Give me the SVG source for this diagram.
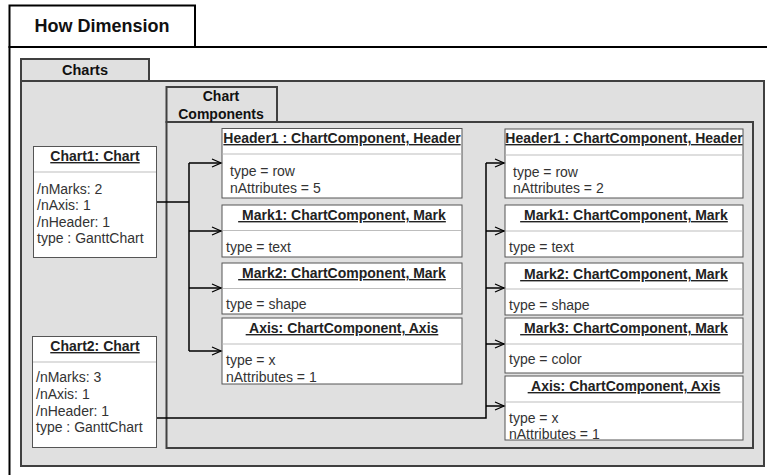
<svg xmlns="http://www.w3.org/2000/svg" width="767" height="475" viewBox="0 0 767 475">
<defs>
<style>
.frame{fill:#fff;stroke:#000;stroke-width:2}
.pkg{fill:#e0e0e0;stroke:#404040;stroke-width:2}
.node{fill:#fff;stroke:#555;stroke-width:1}
.div{stroke:#bdbdbd;stroke-width:1}
.ttl{font-family:"Liberation Sans",Arial,sans-serif;font-weight:bold;fill:#111}
.title{font-family:"Liberation Sans",Arial,sans-serif;font-weight:bold;font-size:14px;fill:#222;text-decoration:underline;text-anchor:middle}
.attr{font-family:"Liberation Sans",Arial,sans-serif;font-size:14px;fill:#333}
.conn{fill:none;stroke:#000;stroke-width:1.5}
</style>
<marker id="arr" markerUnits="userSpaceOnUse" markerWidth="12" markerHeight="12" refX="10" refY="5" orient="auto">
<path d="M1,1 L10,5 L1,9" fill="none" stroke="#000" stroke-width="1.3"/>
</marker>
</defs>

<g id="how-dimension">
<rect class="frame" x="9.5" y="47" width="800" height="450"/>
<rect class="frame" x="9.5" y="5.5" width="185.5" height="41.5"/>
<text class="ttl" x="102" y="32" font-size="18" text-anchor="middle">How Dimension</text>
</g>

<g id="charts">
<rect class="pkg" x="21" y="81" width="743" height="385"/>
<rect class="pkg" x="21" y="59" width="128" height="22"/>
<text class="ttl" x="85" y="75" font-size="14.5" text-anchor="middle">Charts</text>
</g>

<g id="chart-components">
<rect class="pkg" x="166.5" y="122" width="586.5" height="326"/>
<rect class="pkg" x="166.5" y="87" width="110.5" height="35"/>
<text class="ttl" x="221" y="101" font-size="14" text-anchor="middle">Chart</text>
<text class="ttl" x="221" y="119" font-size="14" text-anchor="middle">Components</text>
</g>

<g id="chart1">
<rect class="node" x="33.5" y="146.5" width="123" height="111"/>
<line class="div" x1="34" y1="172" x2="156" y2="172"/>
<text class="title" x="95" y="161">Chart1: Chart</text>
<text class="attr" x="37" y="194">/nMarks: 2</text>
<text class="attr" x="37" y="210">/nAxis: 1</text>
<text class="attr" x="37" y="227">/nHeader: 1</text>
<text class="attr" x="37" y="243">type : GanttChart</text>
</g>

<g id="chart2">
<rect class="node" x="32.5" y="336.5" width="124" height="111"/>
<line class="div" x1="33" y1="362" x2="156" y2="362"/>
<text class="title" x="95" y="351">Chart2: Chart</text>
<text class="attr" x="36" y="382">/nMarks: 3</text>
<text class="attr" x="36" y="399">/nAxis: 1</text>
<text class="attr" x="36" y="416">/nHeader: 1</text>
<text class="attr" x="36" y="432">type : GanttChart</text>
</g>

<g id="l-header1">
<rect class="node" x="222" y="128.5" width="240" height="69.5"/>
<line class="div" x1="222.5" y1="154" x2="461.5" y2="154"/>
<text class="title" x="342" y="143">Header1 : ChartComponent, Header</text>
<text class="attr" x="230" y="176">type = row</text>
<text class="attr" x="230" y="193">nAttributes = 5</text>
</g>

<g id="l-mark1">
<rect class="node" x="222" y="205" width="240" height="52"/>
<line class="div" x1="222.5" y1="230.5" x2="461.5" y2="230.5"/>
<text class="title" x="342" y="220" xml:space="preserve"> Mark1: ChartComponent, Mark</text>
<text class="attr" x="226" y="252">type = text</text>
</g>

<g id="l-mark2">
<rect class="node" x="222" y="263" width="240" height="51"/>
<line class="div" x1="222.5" y1="288.5" x2="461.5" y2="288.5"/>
<text class="title" x="342" y="278" xml:space="preserve"> Mark2: ChartComponent, Mark</text>
<text class="attr" x="226" y="309">type = shape</text>
</g>

<g id="l-axis">
<rect class="node" x="222" y="318" width="240" height="66"/>
<line class="div" x1="222.5" y1="344" x2="461.5" y2="344"/>
<text class="title" x="342" y="333" xml:space="preserve"> Axis: ChartComponent, Axis</text>
<text class="attr" x="226" y="365">type = x</text>
<text class="attr" x="226" y="382">nAttributes = 1</text>
</g>

<g id="r-header1">
<rect class="node" x="505" y="129" width="238" height="69"/>
<line class="div" x1="505.5" y1="155" x2="742.5" y2="155"/>
<text class="title" x="624" y="143">Header1 : ChartComponent, Header</text>
<text class="attr" x="513" y="177">type = row</text>
<text class="attr" x="513" y="193">nAttributes = 2</text>
</g>

<g id="r-mark1">
<rect class="node" x="505" y="205" width="238" height="52"/>
<line class="div" x1="505.5" y1="231" x2="742.5" y2="231"/>
<text class="title" x="624" y="220" xml:space="preserve"> Mark1: ChartComponent, Mark</text>
<text class="attr" x="509" y="252">type = text</text>
</g>

<g id="r-mark2">
<rect class="node" x="505" y="263" width="238" height="52"/>
<line class="div" x1="505.5" y1="289" x2="742.5" y2="289"/>
<text class="title" x="624" y="279" xml:space="preserve"> Mark2: ChartComponent, Mark</text>
<text class="attr" x="509" y="310">type = shape</text>
</g>

<g id="r-mark3">
<rect class="node" x="505" y="318" width="238" height="55"/>
<line class="div" x1="505.5" y1="344" x2="742.5" y2="344"/>
<text class="title" x="624" y="333" xml:space="preserve"> Mark3: ChartComponent, Mark</text>
<text class="attr" x="509" y="364">type = color</text>
</g>

<g id="r-axis">
<rect class="node" x="505" y="376" width="238" height="64"/>
<line class="div" x1="505.5" y1="402" x2="742.5" y2="402"/>
<text class="title" x="624" y="391" xml:space="preserve"> Axis: ChartComponent, Axis</text>
<text class="attr" x="509" y="423">type = x</text>
<text class="attr" x="509" y="439">nAttributes = 1</text>
</g>

<g id="connectors">
<path class="conn" d="M157,202 H189 M189,163 V351"/>
<path class="conn" marker-end="url(#arr)" d="M189,163 H221"/>
<path class="conn" marker-end="url(#arr)" d="M189,231 H221"/>
<path class="conn" marker-end="url(#arr)" d="M189,288 H221"/>
<path class="conn" marker-end="url(#arr)" d="M189,351 H221"/>
<path class="conn" d="M157,418 H486 V163"/>
<path class="conn" marker-end="url(#arr)" d="M486,163 H504"/>
<path class="conn" marker-end="url(#arr)" d="M486,231 H504"/>
<path class="conn" marker-end="url(#arr)" d="M486,288 H504"/>
<path class="conn" marker-end="url(#arr)" d="M486,344 H504"/>
<path class="conn" marker-end="url(#arr)" d="M486,406 H504"/>
</g>
</svg>
